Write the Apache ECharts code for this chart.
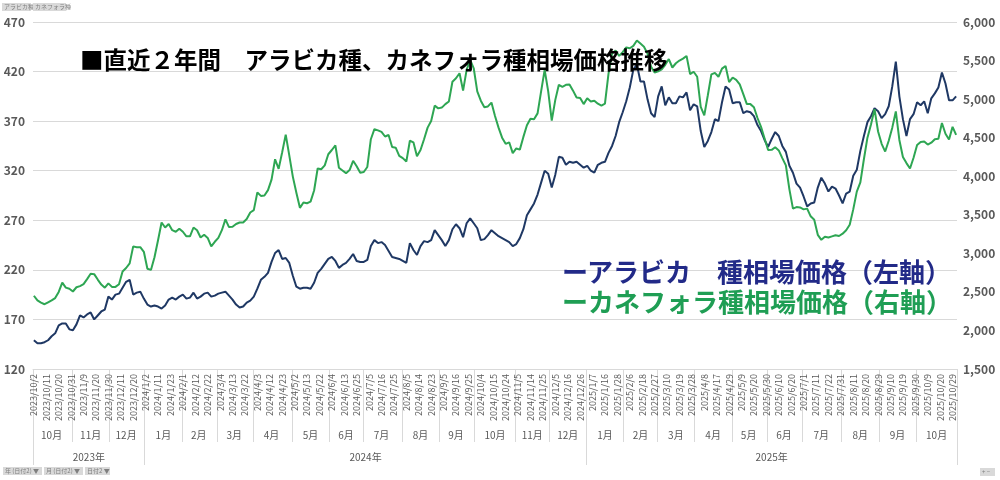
<!DOCTYPE html>
<html>
<head>
<meta charset="utf-8">
<script src="https://cdn.jsdelivr.net/npm/echarts@6.0.0/dist/echarts.min.js"></script>
<style>
  html, body { margin: 0; padding: 0; background: #fff; }
  #main { width: 1000px; height: 480px; }
</style>
</head>
<body>
<div id="main"></div>
<script>
// 営業日（ICE休場日と欠損日を除く）
const startDate = '2023-10-02';
const endDate = '2025-10-31';
const holidays = ['2023-11-23', '2023-12-25', '2024-01-01', '2024-01-15', '2024-02-19', '2024-03-29',
  '2024-05-27', '2024-06-19', '2024-07-04', '2024-09-02', '2024-11-28', '2024-12-25', '2025-01-01',
  '2025-01-20', '2025-02-17', '2025-04-18', '2025-05-26', '2025-06-19', '2025-07-04', '2025-09-01'];
const missingDays = ['2024-05-31', '2024-08-26', '2024-11-01', '2025-05-05'];

// 2営業日ごとの値
const step = 2;
// アラビカ種（左軸）
const arabica = [
  149, 146, 146, 147, 149, 153, 156, 164, 166, 166,
  160, 159, 165, 174, 172, 175, 177, 170, 174, 178,
  180, 193, 190, 195, 196, 202, 208, 210, 195, 197,
  198, 191, 185, 183, 184, 183, 181, 184, 190, 192,
  190, 193, 195, 191, 192, 197, 191, 193, 196, 197,
  193, 194, 196, 197, 198, 194, 190, 185, 182, 183,
  187, 189, 193, 201, 210, 213, 217, 228, 237, 240,
  231, 232, 227, 214, 203, 201, 202, 202, 201, 207,
  217, 221, 226, 231, 233, 229, 222, 225, 227, 231,
  236, 229, 228, 228, 230, 244, 250, 247, 248, 245,
  239, 233, 232, 231, 229, 227, 247, 240, 235, 244,
  249, 248, 250, 260, 255, 250, 244, 250, 261, 266,
  262, 253, 267, 272, 267, 262, 250, 251, 255, 260,
  257, 254, 252, 250, 248, 244, 246, 252, 261, 275,
  281, 287, 296, 308, 320, 317, 303, 316, 334, 333,
  326, 329, 328, 329, 326, 323, 325, 320, 318, 326,
  328, 329, 338, 345, 355, 369, 379, 390, 404, 422,
  427, 410, 410, 392, 378, 374, 395, 405, 386, 394,
  388, 388, 395, 394, 399, 381, 387, 385, 360, 344,
  350, 359, 372, 370, 389, 405, 402, 388, 389, 389,
  378, 380, 379, 375, 366, 360, 351, 344, 352, 359,
  355, 345, 339, 325, 318, 307, 303, 294, 284, 287,
  288, 303, 313, 307, 299, 304, 302, 295, 287, 297,
  299, 315, 321, 340, 355, 369, 375, 383, 380, 373,
  377, 385, 405, 430, 395, 372, 355, 372, 377, 389,
  386, 390, 378, 393, 398, 404, 419, 408, 391, 391,
  395
];
// カネフォラ種（右軸）
const canephora = [
  2450, 2390, 2360, 2340, 2365, 2390, 2420, 2500, 2620, 2555,
  2540, 2505, 2560, 2575, 2600, 2665, 2735, 2730, 2660, 2595,
  2555, 2610, 2565, 2565, 2600, 2765, 2810, 2870, 3090, 3080,
  3080, 3020, 2800, 2785, 2950, 3170, 3400, 3335, 3380, 3300,
  3280, 3320, 3280, 3220, 3220, 3335, 3300, 3205, 3240, 3200,
  3090, 3150, 3200, 3300, 3440, 3340, 3345, 3380, 3400, 3400,
  3445, 3530, 3560, 3790, 3745, 3750, 3820, 3955, 4220, 4095,
  4310, 4540, 4270, 3995, 3785, 3590, 3660, 3650, 3670, 3815,
  4100, 4090, 4140, 4285, 4340, 4400, 4110, 4075, 4040, 4080,
  4200, 4130, 4045, 4055, 4120, 4480, 4610, 4595, 4575, 4515,
  4535, 4380, 4370, 4265, 4235, 4190, 4460, 4440, 4260, 4340,
  4480, 4630, 4715, 4915, 4880, 4890, 4935, 4970, 5225, 5270,
  5335, 5110, 5380, 5510, 5400, 5100, 4980, 4895, 4905, 4955,
  4780, 4630, 4500, 4420, 4440, 4300, 4360, 4345, 4510, 4660,
  4745, 4740, 4815, 5100, 5380, 5100, 4720, 4990, 5185, 5160,
  5185, 5190, 5110, 5020, 5015, 4935, 5010, 4970, 4980, 4940,
  4915, 4940, 5330, 5590, 5630, 5560, 5610, 5670, 5660, 5690,
  5760, 5720, 5680, 5590, 5420, 5345, 5360, 5385, 5445, 5520,
  5410, 5465, 5500, 5525, 5560, 5325, 5355, 5290, 4900, 4790,
  5050, 5320, 5340, 5290, 5395, 5430, 5220, 5280, 5250, 5190,
  5065, 4935, 4935, 4895, 4755, 4640, 4490, 4340, 4342, 4375,
  4335, 4235, 4140, 3830, 3580, 3600, 3595, 3570, 3580, 3480,
  3435, 3240, 3175, 3215, 3205, 3220, 3235, 3225, 3255, 3300,
  3370, 3570, 3800, 3920, 4220, 4500, 4670, 4870, 4580, 4420,
  4320, 4460, 4630, 4840, 4470, 4250, 4170, 4100, 4240, 4405,
  4445, 4450, 4410, 4435, 4480, 4485, 4690, 4550, 4475, 4640,
  4535
];

const labelEvery = 7;
const gray = '#595959';
const lineGray = '#d9d9d9';
const font = 'Noto Sans CJK JP';

// 営業日リストを作る
function tradingDays() {
  const skip = new Set(holidays.concat(missingDays));
  const out = [];
  const d = new Date(startDate + 'T00:00:00Z');
  const end = new Date(endDate + 'T00:00:00Z');
  while (d <= end) {
    const wd = d.getUTCDay();
    const iso = d.toISOString().slice(0, 10);
    if (wd !== 0 && wd !== 6 && !skip.has(iso)) {
      out.push({ y: d.getUTCFullYear(), m: d.getUTCMonth() + 1, d: d.getUTCDate() });
    }
    d.setUTCDate(d.getUTCDate() + 1);
  }
  return out;
}

const days = tradingDays();
const dates = days.map(t => t.y + '/' + t.m + '/' + t.d);
const monthStart = days.map((t, i) => i === 0 || t.m !== days[i - 1].m);
const yearStart = days.map((t, i) => i === 0 || t.y !== days[i - 1].y);

function middles(starts) {
  const mids = new Set();
  let s = 0;
  for (let i = 1; i <= starts.length; i++) {
    if (i === starts.length || starts[i]) {
      mids.add(Math.floor((s + i - 1) / 2));
      s = i;
    }
  }
  return mids;
}
const monthMid = middles(monthStart);
const yearMid = middles(yearStart);

const myChart = echarts.init(document.getElementById('main'));

function button(x, y, w, text) {
  return [
    { type: 'rect', left: x, top: y, shape: { width: w, height: 8 }, style: { fill: '#d9d9d9' } },
    { type: 'text', left: x + 2, top: y + 1, style: { text: text, fontSize: 6, fill: '#7f7f7f', fontFamily: font } }
  ];
}

myChart.setOption({
  animation: false,
  backgroundColor: '#fff',
  textStyle: { fontFamily: font },
  grid: { left: 33, right: 43, top: 22, bottom: 111 },
  title: [
    {
      text: '■直近２年間　アラビカ種、カネフォラ種相場価格推移',
      left: 75, top: 43,
      textStyle: { fontSize: 23.5, fontWeight: 'bold', color: '#000', fontFamily: font }
    },
    {
      text: 'ーアラビカ　種相場価格（左軸）',
      left: 557, top: 254,
      textStyle: { fontSize: 26, fontWeight: 'bold', color: '#222a88', fontFamily: font }
    },
    {
      text: 'ーカネフォラ種相場価格（右軸）',
      left: 557, top: 284,
      textStyle: { fontSize: 26, fontWeight: 'bold', color: '#1f9e54', fontFamily: font }
    }
  ],
  graphic: [].concat(
    button(2, 3, 29, 'アラビカ種'),
    button(33, 3, 33, 'カネフォラ種'),
    button(3, 467, 39, '年 (日付2) ▼'),
    button(44, 467, 39, '月 (日付2) ▼'),
    button(85, 467, 25, '日付2 ▼'),
    button(980, 468, 15, '+ −')
  ),
  xAxis: [
    {
      type: 'category', data: dates, position: 'bottom',
      axisLine: { lineStyle: { color: lineGray } },
      axisTick: { show: true, interval: i => monthStart[i], length: 73, lineStyle: { color: lineGray } },
      axisLabel: { interval: i => i % labelEvery === 0, rotate: 90, fontSize: 9, color: gray, margin: 5 },
      splitLine: { show: false }
    },
    {
      type: 'category', data: dates, position: 'bottom',
      axisLine: { show: false }, axisTick: { show: false },
      axisLabel: {
        interval: i => monthMid.has(i), margin: 61, fontSize: 10, color: gray,
        formatter: v => v.split('/')[1] + '月'
      }
    },
    {
      type: 'category', data: dates, position: 'bottom',
      axisLine: { show: false },
      axisTick: { show: true, interval: i => yearStart[i], length: 96, lineStyle: { color: lineGray } },
      axisLabel: {
        interval: i => yearMid.has(i), margin: 83, fontSize: 10, color: gray,
        formatter: v => v.split('/')[0] + '年'
      }
    }
  ],
  yAxis: [
    {
      type: 'value', position: 'left', min: 120, max: 470, interval: 50,
      axisLine: { show: false }, axisTick: { show: false },
      splitLine: { lineStyle: { color: lineGray } },
      axisLabel: { fontSize: 12, fontWeight: 'bold', color: gray, margin: 8 }
    },
    {
      type: 'value', position: 'right', min: 1500, max: 6000, interval: 500,
      axisLine: { show: false }, axisTick: { show: false },
      splitLine: { show: false },
      axisLabel: { fontSize: 12, fontWeight: 'bold', color: gray, margin: 6 }
    }
  ],
  series: [
    {
      name: 'アラビカ種', type: 'line', xAxisIndex: 0, yAxisIndex: 0,
      data: arabica.map((v, k) => [k * step, v]),
      symbol: 'none', lineStyle: { color: '#1f3864', width: 2 }, itemStyle: { color: '#1f3864' }, z: 3
    },
    {
      name: 'カネフォラ種', type: 'line', xAxisIndex: 0, yAxisIndex: 1,
      data: canephora.map((v, k) => [k * step, v]),
      symbol: 'none', lineStyle: { color: '#2ea653', width: 2 }, itemStyle: { color: '#2ea653' }, z: 4
    }
  ]
});
window.onresize = myChart.resize;
</script>
</body>
</html>
